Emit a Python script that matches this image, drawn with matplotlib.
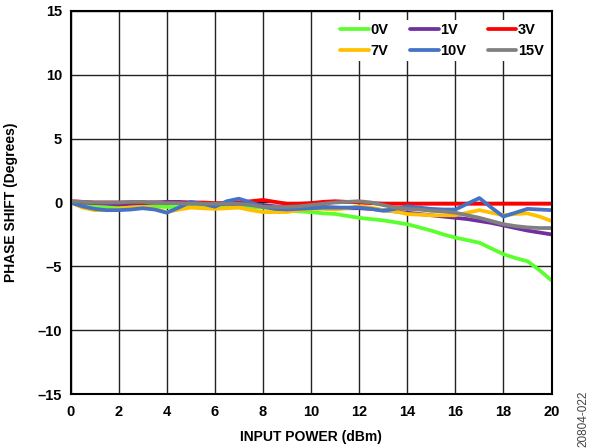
import numpy as np
import matplotlib.pyplot as plt

plt.rcParams['font.family'] = ['Liberation Sans', 'DejaVu Sans']

# input power, dBm (0.5 dB steps)
x = np.arange(0, 20.5, 0.5)

v0 = [0.0, -0.2, -0.35, -0.4, -0.4, -0.35, -0.3, -0.3, -0.35, -0.35,
      -0.3, -0.3, -0.35, -0.35, -0.35, -0.4, -0.4, -0.5, -0.6, -0.7,
      -0.75, -0.85, -0.9, -1.05, -1.2, -1.3, -1.4, -1.55, -1.7, -1.95,
      -2.2, -2.5, -2.75, -2.95, -3.15, -3.6, -4.05, -4.35, -4.6, -5.3, -6.1]
v1 = [0.05, 0.0, -0.05, -0.1, -0.15, -0.1, -0.05, 0.0, 0.05, 0.05,
      0.0, -0.1, -0.15, -0.1, -0.1, -0.15, -0.2, -0.3, -0.35, -0.3,
      -0.3, -0.35, -0.4, -0.45, -0.45, -0.5, -0.6, -0.7, -0.8, -0.9,
      -1.0, -1.1, -1.2, -1.3, -1.45, -1.6, -1.8, -2.0, -2.2, -2.35, -2.5]
v3 = [0.1, 0.05, 0.0, 0.0, 0.0, 0.0, 0.0, 0.0, -0.05, -0.05,
      0.0, 0.0, -0.05, -0.05, 0.0, 0.1, 0.2, 0.05, -0.1, -0.1,
      -0.05, 0.05, 0.1, 0.05, 0.0, -0.05, -0.1, -0.1, -0.1, -0.1,
      -0.1, -0.1, -0.1, -0.1, -0.1, -0.1, -0.1, -0.1, -0.1, -0.1, -0.1]
v7 = [0.0, -0.4, -0.6, -0.6, -0.5, -0.4, -0.35, -0.5, -0.75, -0.55,
      -0.4, -0.45, -0.5, -0.45, -0.4, -0.6, -0.75, -0.75, -0.75, -0.6,
      -0.5, -0.5, -0.55, -0.45, -0.3, -0.4, -0.6, -0.7, -0.9, -0.95,
      -1.0, -1.0, -1.0, -0.8, -0.6, -0.8, -1.0, -0.9, -0.85, -1.1, -1.45]
v10 = [0.0, -0.3, -0.5, -0.6, -0.6, -0.55, -0.45, -0.55, -0.8, -0.4,
       0.05, -0.1, -0.33, 0.1, 0.3, 0.0, -0.33, -0.5, -0.55, -0.5,
       -0.45, -0.4, -0.4, -0.4, -0.4, -0.5, -0.65, -0.5, -0.3, -0.4,
       -0.5, -0.55, -0.55, -0.1, 0.35, -0.4, -1.1, -0.8, -0.5, -0.55, -0.6]
v15 = [0.1, 0.05, 0.0, 0.0, 0.0, 0.05, 0.05, 0.0, -0.05, -0.05,
       -0.1, -0.1, -0.1, -0.1, -0.1, -0.2, -0.35, -0.35, -0.35, -0.3,
       -0.2, -0.1, 0.0, 0.05, 0.1, 0.0, -0.2, -0.4, -0.5, -0.55,
       -0.65, -0.7, -0.8, -1.0, -1.2, -1.45, -1.7, -1.85, -1.95, -2.0, -2.0]

series = [('0V', v0, '#5CFF2E'), ('1V', v1, '#7030A0'), ('3V', v3, '#FF0000'),
          ('7V', v7, '#FFC000'), ('10V', v10, '#4472C4'), ('15V', v15, '#808080')]

fig = plt.figure(figsize=(5.92, 4.48), dpi=100)
ax = fig.add_axes([0.1191, 0.1205, 0.8125, 0.8550])

lines = {}
for name, vals, c in series:
    lines[name], = ax.plot(x, vals, color=c, lw=2.7, label=name,
                           solid_joinstyle='round', solid_capstyle='round')

ax.set_xlim(0, 20)
ax.set_ylim(-15, 15)
ax.set_xticks(range(0, 21, 2))
ax.set_yticks(range(-15, 16, 5))
ax.set_yticklabels([str(t).replace('-', '\u2013') for t in range(-15, 16, 5)])
ax.grid(True, color='#222222', lw=1.0)
ax.set_axisbelow(True)
ax.tick_params(length=0, labelsize=10.5)
ax.tick_params(axis='x', pad=8)
ax.tick_params(axis='y', pad=6)
for lab in ax.get_xticklabels() + ax.get_yticklabels():
    lab.set_fontweight('bold')
for s in ax.spines.values():
    s.set_linewidth(1.5)

ax.set_xlabel('INPUT POWER (dBm)', fontsize=10, fontweight='bold', labelpad=8)
ax.set_ylabel('PHASE SHIFT (Degrees)', fontsize=10, fontweight='bold', labelpad=14)

# row-wise legend order (matplotlib fills columns first)
order = ['0V', '7V', '1V', '10V', '3V', '15V']
leg = ax.legend([lines[n] for n in order], order, ncol=3, loc='upper right',
                bbox_to_anchor=(1.005, 0.995),
                prop={'weight': 'bold', 'size': 10.5},
                frameon=True, facecolor='white', edgecolor='none', framealpha=1,
                handlelength=1.95, handletextpad=0.1, columnspacing=1.5,
                labelspacing=0.5, borderpad=0.2)

fig.text(0.986, 0.065, '20804-022', rotation=90, fontsize=8.5, color='#444444',
         ha='center', va='center')

fig.savefig('out.png', dpi=100)
